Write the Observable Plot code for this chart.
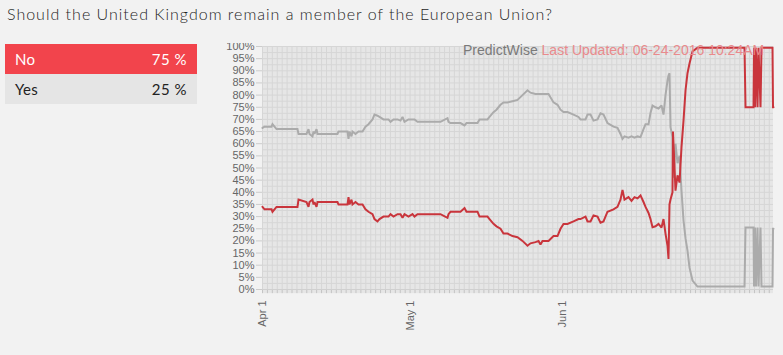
<!DOCTYPE html>
<html><head><meta charset="utf-8">
<script src="https://cdn.jsdelivr.net/npm/d3@7"></script>
<script src="https://cdn.jsdelivr.net/npm/@observablehq/plot@0.6"></script>
<style>
body{margin:0;background:#f2f2f2;}
#wrap{position:relative;width:783px;height:355px;overflow:hidden;background:#f2f2f2;font-family:Lato,"Open Sans",sans-serif;}
#title{position:absolute;left:7px;top:4px;font-size:16px;font-weight:300;color:#1e1e1e;letter-spacing:1px;white-space:nowrap;}
.row{position:absolute;left:5px;width:192px;height:30px;line-height:30px;font-size:15px;}
.row .lab{position:absolute;left:10px;letter-spacing:0.3px;}
.row .val{position:absolute;right:10px;letter-spacing:0.5px;}
#chart{position:absolute;left:215px;top:43px;}
#chart svg{overflow:hidden;background:none;}
#stamp{position:absolute;left:463px;top:42px;font-family:"Liberation Sans",Arial,sans-serif;font-size:14px;white-space:nowrap;}
</style></head>
<body>
<div id="wrap">
  <div id="title"></div>
  <div id="table"></div>
  <div id="chart"></div>
  <div id="stamp"><span style="color:#7a7a7a">PredictWise</span> <span style="color:#e98a8c">Last Updated: 06-24-2016 10:24AM</span></div>
</div>
<script>
const titleText = "Should the United Kingdom remain a member of the European Union?";
const outcomes = ["No", "Yes"];
const outcomeShares = [75, 25];

const startDate = "2016-04-01";
// days after Apr 1
const dayOffsets = [0,0.41,1.83,2.03,2.44,2.85,7.11,7.32,8.94,9.35,9.55,10.16,10.37,10.57,10.98,11.18,15.24,15.45,17.28,17.48,17.68,18.09,18.29,18.90,19.51,20.33,20.93,21.54,22.36,22.76,23.37,23.78,24.59,25.61,26.02,26.63,27.44,28.05,28.46,28.86,29.67,30.49,30.89,31.50,32.11,32.93,34.76,36.18,37.60,37.80,38.21,40.24,41.06,41.46,43.70,44.11,45.73,46.14,46.95,47.56,48.37,48.98,49.80,50.81,51.83,52.85,53.86,54.47,55.49,56.10,56.50,56.91,58.13,59.15,59.96,60.57,61.18,61.99,63.21,64.23,64.63,65.65,66.06,66.67,67.28,68.09,68.70,69.31,70.12,71.34,72.15,72.76,73.17,73.58,74.39,75.00,75.61,76.22,76.83,77.44,77.85,78.46,78.86,79.27,79.88,80.49,81.10,81.50,81.71,81.91,82.32,82.52,82.72,82.93,83.33,83.43,83.54,83.94,84.35,84.76,85.16,85.57,85.98,86.38,86.79,87.40,88.41,97.97,98.17,99.80,99.90,100.10,100.30,100.61,100.81,101.22,101.42,103.66,103.76,103.86];
const noValues = [34,33,33,32,33,34,34,37,36,34,36,37,35,36,34,36,36,35,35,38,35,37,35,36,35,35,33,32,31,29,28,29,30,30,31,30,31,31,29.5,31,30,31,30,31,31,31,31,31,29.5,31,32,32,33.5,32,32,30,30,29,27,26,25,23,23,22,21.5,20,18,19,19.5,20,18.5,20,20,22,22,25,27,27,28,29,29,30,28,28,30.5,30,27.5,28,32,33,34,37,41,37,38,36.5,38,37.5,38.7,36,34,31.5,29,25.6,26,27,25.5,29,26,23,18,12.6,35,37,40,65,60,40.7,47,44,58.6,69.5,82,89,93,98,99.5,99.5,75,75,99.5,75,99.5,75,99.5,75,99.5,99.5,75,75];
const yesValues = [66.5,67,67,68,67,66,66,64,64,66,64,63,65,64,66,64,64,65,65,62,65,63,65,64,65,65,67,68,70,72,71.5,71,70,70,69,70,70,69.5,71,69,70,70,70,69,69,69,69,69,70.5,69,68.5,68.5,67.5,68.5,68.5,70,70,71,73,74,76,77,77,77.5,78,80,82,81,80.5,80.5,80.5,80.5,80.5,77,76,74,73,73,72,71,70,70,72,72,69.5,70,72.5,72,68.5,67,66.5,64,62,63,62.5,63,62.5,63,62.7,66,68,68,72.6,75.7,75,74.5,75.7,72,76,80,86,88,89,66.8,62.7,50,46,60,52,55,40.7,28.4,21,16,9,3.7,1.2,1.2,25.5,25.5,1.2,25.5,1.2,25.5,1.2,25.5,1.2,1.2,25,25];

const xTickDates = ["2016-04-01", "2016-05-01", "2016-06-01"];
const yTicks = [0,5,10,15,20,25,30,35,40,45,50,55,60,65,70,75,80,85,90,95,100];

// header + table
document.getElementById("title").textContent = titleText;
const rowStyles = [{bg:"#f2444c", fg:"#fff"}, {bg:"#e5e5e5", fg:"#222"}];
const table = document.getElementById("table");
outcomes.forEach((o, i) => {
  const r = document.createElement("div");
  r.className = "row";
  r.style.top = (44 + i * 30) + "px";
  r.style.background = rowStyles[i].bg;
  r.style.color = rowStyles[i].fg;
  r.innerHTML = `<span class="lab"></span><span class="val"></span>`;
  r.querySelector(".lab").textContent = o;
  r.querySelector(".val").textContent = outcomeShares[i] + " %";
  table.appendChild(r);
});

const t0 = new Date(startDate + "T00:00:00Z");
const toDate = d => new Date(t0.getTime() + d * 864e5);
const rows = dayOffsets.map((d, i) => ({date: toDate(d), no: noValues[i], yes: yesValues[i]}));
const xStart = toDate(dayOffsets[0]);
const xEnd = toDate(dayOffsets[dayOffsets.length - 1]);
const days = d3.utcDay.range(xStart, xEnd);
const hGrid = d3.range(0, 100.1, 2.5);

const plot = Plot.plot({
  width: 568,
  height: 312,
  marginLeft: 47,
  marginRight: 10,
  marginTop: 3,
  marginBottom: 66,
  style: {fontFamily: "'Liberation Sans', Arial, sans-serif", fontSize: "11px", color: "#666", background: "none", overflow: "hidden"},
  x: {type: "utc", domain: [xStart, xEnd]},
  y: {domain: [0, 100]},
  marks: [
    Plot.rect([0], {x1: () => xStart, x2: () => xEnd, y1: () => -1.7, y2: () => 100, fill: "#e6e6e6"}),
    Plot.ruleX(days, {x: d => d, y1: 0, y2: 100, stroke: "#d6d6d6", strokeWidth: 1}),
    Plot.ruleY(hGrid, {y: d => d, x1: xStart, x2: xEnd, stroke: "#d6d6d6", strokeWidth: 1}),
    Plot.ruleX(days, {x: d => d, y1: 0, y2: -1.7, stroke: "#c4c4c4", strokeWidth: 1}),
    Plot.ruleY([0], {stroke: "#d0d0d0"}),
    Plot.axisY({ticks: yTicks, tickFormat: d => d + "%", tickSize: 6, tickPadding: 2, stroke: "#cccccc", fill: "#666", fontSize: 11}),
    Plot.axisX({ticks: xTickDates.map(s => new Date(s + "T00:00:00Z")), tickFormat: d3.utcFormat("%b %-d"), tickRotate: -90, tickSize: 0, tickPadding: 11, fill: "#666", fontSize: 11}),
    Plot.line(rows, {x: "date", y: "yes", stroke: "#ababab", strokeWidth: 2, strokeLinejoin: "miter", strokeMiterlimit: 2}),
    Plot.line(rows, {x: "date", y: "no", stroke: "#c9353c", strokeWidth: 2, strokeLinejoin: "miter", strokeMiterlimit: 2})
  ]
});
document.getElementById("chart").appendChild(plot);
</script>
</body></html>
